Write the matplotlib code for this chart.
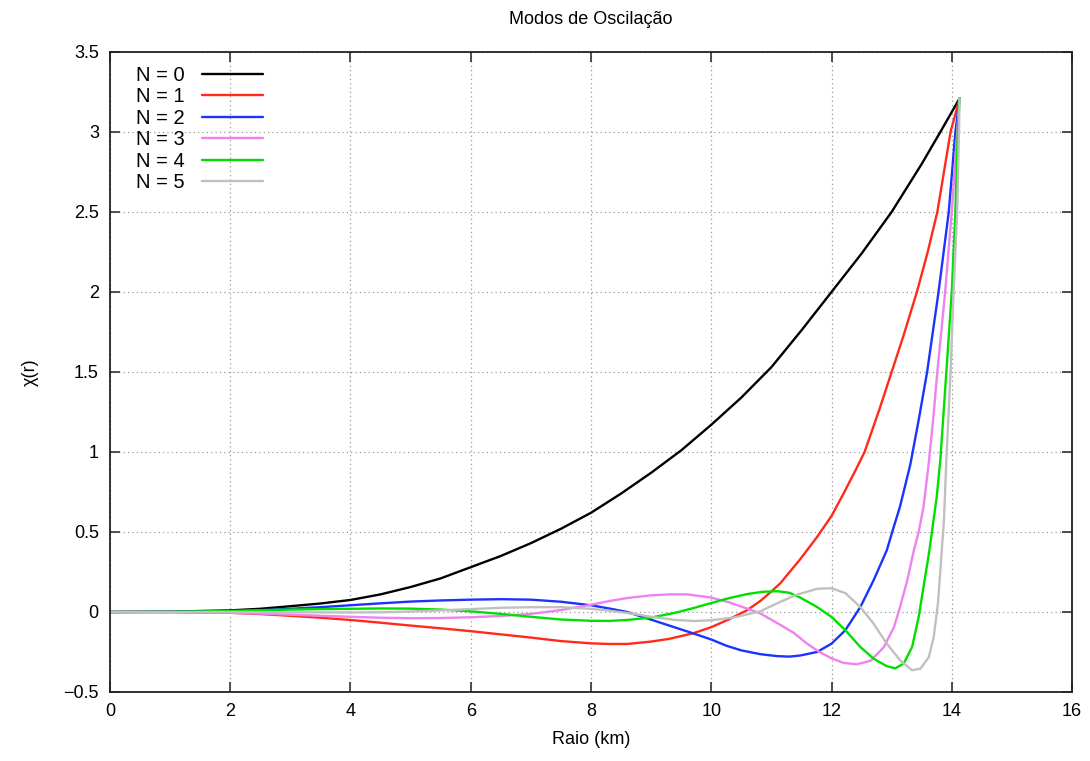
import numpy as np
import matplotlib
matplotlib.use("Agg")
import matplotlib.pyplot as plt
from matplotlib.ticker import FuncFormatter, MultipleLocator

# ── Modes: radius (km) and chi(r) for each N ────────────────────────────────
r_n0   = [0, 1, 2, 2.5, 3, 3.5, 4, 4.5, 5, 5.5, 6, 6.5, 7, 7.5, 8, 8.5, 9, 9.5,
          10, 10.5, 11, 11.5, 12, 12.5, 13, 13.5, 13.81, 14.13]
chi_n0 = [0, 0.002, 0.01, 0.02, 0.036, 0.053, 0.075, 0.11, 0.156, 0.21, 0.28,
          0.35, 0.43, 0.52, 0.62, 0.74, 0.87, 1.01, 1.17, 1.34, 1.53, 1.76,
          2.0, 2.24, 2.5, 2.8, 3.0, 3.21]

r_n1   = [0, 1, 2, 2.5, 3, 3.5, 4, 4.5, 5, 5.5, 6, 6.5, 7, 7.5, 8, 8.3, 8.6, 9,
          9.3, 9.7, 10, 10.3, 10.6, 10.82, 11, 11.15, 11.48, 11.76, 12, 12.2,
          12.4, 12.55, 12.8, 13, 13.2, 13.42, 13.6, 13.76, 13.98, 14.13]
chi_n1 = [0, -0.001, -0.005, -0.013, -0.024, -0.036, -0.05, -0.067, -0.085,
          -0.102, -0.12, -0.14, -0.16, -0.182, -0.196, -0.2, -0.2, -0.185,
          -0.168, -0.133, -0.095, -0.045, 0.012, 0.07, 0.128, 0.18, 0.33, 0.469,
          0.6, 0.74, 0.886, 1.0, 1.27, 1.5, 1.73, 2.0, 2.25, 2.5, 3.0, 3.21]

r_n2   = [0, 1, 2, 2.5, 3, 3.5, 4, 4.5, 5, 5.5, 6, 6.5, 7, 7.5, 8, 8.3, 8.6, 9,
          9.4, 9.71, 10, 10.26, 10.5, 10.82, 11.1, 11.3, 11.48, 11.76, 12,
          12.23, 12.48, 12.7, 12.92, 13.01, 13.14, 13.31, 13.45, 13.59, 13.78,
          13.95, 14.06, 14.13]
chi_n2 = [0, 0.001, 0.005, 0.011, 0.02, 0.03, 0.042, 0.054, 0.065, 0.072,
          0.077, 0.08, 0.077, 0.064, 0.042, 0.022, 0.0, -0.048, -0.097, -0.135,
          -0.172, -0.212, -0.24, -0.264, -0.276, -0.279, -0.272, -0.25, -0.198,
          -0.114, 0.031, 0.198, 0.386, 0.5, 0.66, 0.92, 1.2, 1.5, 2.0, 2.5,
          3.0, 3.21]

r_n3   = [0, 1, 2, 2.5, 3, 3.5, 4, 4.5, 5, 5.5, 6, 6.5, 7, 7.5, 8, 8.3, 8.6, 9,
          9.3, 9.6, 10, 10.3, 10.65, 10.82, 11.1, 11.37, 11.6, 11.8, 12, 12.2,
          12.42, 12.65, 12.87, 13.04, 13.14, 13.26, 13.37, 13.45, 13.53, 13.62,
          13.69, 13.76, 13.89, 14.0, 14.09, 14.13]
chi_n3 = [0, -0.001, -0.005, -0.01, -0.017, -0.024, -0.03, -0.036, -0.039,
          -0.038, -0.033, -0.025, -0.012, 0.012, 0.045, 0.068, 0.087, 0.104,
          0.11, 0.11, 0.09, 0.06, 0.014, -0.01, -0.07, -0.13, -0.2, -0.25,
          -0.29, -0.318, -0.327, -0.305, -0.22, -0.094, 0.031, 0.198, 0.386,
          0.5, 0.656, 0.94, 1.2, 1.5, 2.0, 2.5, 3.0, 3.21]

r_n4   = [0, 1, 2, 2.5, 3, 3.5, 4, 4.5, 5, 5.5, 6, 6.5, 7, 7.5, 8, 8.3, 8.6, 9,
          9.4, 9.71, 10, 10.3, 10.6, 10.85, 11.1, 11.3, 11.48, 11.76, 12, 12.23,
          12.48, 12.7, 12.92, 13.06, 13.2, 13.34, 13.45, 13.53, 13.62, 13.67,
          13.75, 13.81, 13.91, 14.0, 14.06, 14.1, 14.13]
chi_n4 = [0, 0.001, 0.006, 0.011, 0.015, 0.018, 0.02, 0.022, 0.021, 0.015,
          0.004, -0.012, -0.03, -0.047, -0.055, -0.056, -0.05, -0.035, -0.005,
          0.025, 0.056, 0.087, 0.112, 0.126, 0.13, 0.12, 0.09, 0.031, -0.031,
          -0.114, -0.219, -0.292, -0.339, -0.352, -0.323, -0.219, -0.031,
          0.156, 0.365, 0.5, 0.72, 0.95, 1.5, 2.0, 2.5, 3.0, 3.21]

r_n5   = [0, 2, 3, 4, 4.5, 5, 5.5, 6, 6.5, 7, 7.5, 8, 8.3, 8.6, 9, 9.4, 9.71,
          10, 10.37, 10.6, 10.82, 11.1, 11.4, 11.76, 12, 12.23, 12.48, 12.7,
          12.92, 13.14, 13.34, 13.48, 13.62, 13.7, 13.77, 13.81, 13.87, 13.91,
          13.98, 14.03, 14.09, 14.12, 14.13]
chi_n5 = [0, 0, -0.002, -0.003, -0.002, 0.003, 0.01, 0.018, 0.026, 0.03, 0.03,
          0.02, 0.008, -0.006, -0.03, -0.05, -0.056, -0.052, -0.035, -0.015,
          0.005, 0.055, 0.105, 0.145, 0.148, 0.118, 0.031, -0.073, -0.198,
          -0.302, -0.364, -0.354, -0.281, -0.156, 0.052, 0.26, 0.573, 0.95,
          1.5, 2.0, 2.5, 3.0, 3.21]

LABELS = ["N = 0", "N = 1", "N = 2", "N = 3", "N = 4", "N = 5"]
COLORS = ["#000000", "#ff2a1a", "#1a33ff", "#ee82ee", "#00e000", "#c0c0c0"]

plt.rcParams["font.family"] = ["Liberation Sans", "DejaVu Sans"]

fig = plt.figure(figsize=(10.9, 7.61), dpi=100, facecolor="white")
ax = fig.add_axes([0.1009, 0.0907, 0.8826, 0.841])

series = [(r_n0, chi_n0), (r_n1, chi_n1), (r_n2, chi_n2),
          (r_n3, chi_n3), (r_n4, chi_n4), (r_n5, chi_n5)]
for (r, chi), lab, col in zip(series, LABELS, COLORS):
    ax.plot(r, chi, color=col, linewidth=1.7, label=lab,
            solid_joinstyle="round", solid_capstyle="round")

ax.set_xlim(0, 16)
ax.set_ylim(-0.5, 3.5)
ax.xaxis.set_major_locator(MultipleLocator(2))
ax.yaxis.set_major_locator(MultipleLocator(0.5))
ax.yaxis.set_major_formatter(FuncFormatter(lambda v, p: f"{v:g}".replace("-", "\u2212")))

ax.grid(True, color="#9a9a9a", linestyle=(0, (1, 2.5)), linewidth=0.9)
ax.tick_params(direction="in", length=7, width=1.1, top=True, right=True,
               labelsize=13, pad=8, colors="#222222", labelcolor="black")
for s in ax.spines.values():
    s.set_linewidth(1.3)
    s.set_color("#222222")

ax.set_xlabel("Raio (km)", fontsize=13, labelpad=8)
ax.set_ylabel("\u03c7(r)", fontsize=13, labelpad=18)
ax.set_title("Modos de Oscilação", fontsize=13, pad=20)

ax.legend(loc="upper left", frameon=False, markerfirst=False, fontsize=14.5,
          handlelength=3.0, handletextpad=0.9, labelspacing=0.12,
          borderaxespad=0.3, bbox_to_anchor=(0.012, 1.0))

fig.savefig("out.png", dpi=100, facecolor="white")
